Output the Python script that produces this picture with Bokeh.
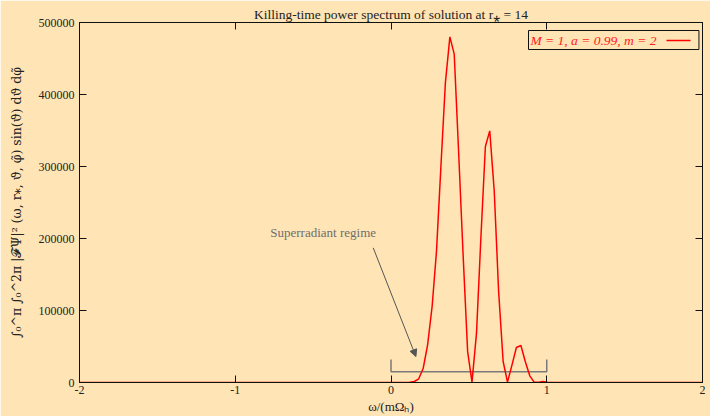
from bokeh.plotting import figure
from bokeh.models import (Range1d, LinearAxis, FixedTicker, PrintfTickFormatter,
                          Label, BoxAnnotation, Arrow, NormalHead, ColumnDataSource)
from bokeh.embed import file_html
from bokeh.resources import INLINE

# Power spectrum samples: omega / (m Omega_H) and integrated |F Psi|^2
omega = [-2.0, 0.121, 0.150, 0.178, 0.207, 0.235, 0.264, 0.292, 0.321, 0.349,
         0.378, 0.406, 0.435, 0.463, 0.492, 0.520, 0.549, 0.577, 0.606, 0.634,
         0.663, 0.691, 0.720, 0.748, 0.777, 0.805, 0.834, 0.862, 0.891, 0.919,
         0.948, 0.976, 1.005, 1.033, 2.0]
power = [0, 200, 1400, 5100, 19900, 52300, 105600, 182000, 302300, 415700,
         480000, 456000, 316000, 177000, 43000, 500, 68500, 200500, 327800, 349500,
         265300, 126400, 29200, 500, 24500, 48600, 51400, 29200, 9300, 500,
         300, 1500, 500, 0, 0]

x_ticks = [-2, -1, 0, 1, 2]
y_ticks = [0, 100000, 200000, 300000, 400000, 500000]

# Superradiant band 0 < omega < m Omega_H
band_lo, band_hi = 0.0, 1.0
band_y, band_cap = 15000, 32000

BG = "#FFE5B5"
SERIF = "Liberation Serif"
INK = "#222222"

p = figure(width=710, height=416, frame_width=623, frame_height=360,
           output_backend="svg", toolbar_location=None,
           x_range=Range1d(-2, 2), y_range=Range1d(0, 500000),
           x_axis_location=None, y_axis_location=None,
           min_border_left=79, min_border_right=8, min_border_top=22, min_border_bottom=34)
p.background_fill_color = BG
p.border_fill_color = BG
p.outline_line_color = "#111111"
p.outline_line_width = 1
p.grid.visible = False

p.title.text = "Killing-time power spectrum of solution at r\u204e = 14"
p.title.align = "center"
p.title.text_font = SERIF
p.title.text_font_size = "13.5px"
p.title.text_font_style = "normal"
p.title.text_color = INK
p.title.standoff = 2


def make_axis(with_labels=True):
    ax = LinearAxis()
    ax.major_tick_in = 7
    ax.major_tick_out = 0
    ax.minor_tick_in = 0
    ax.minor_tick_out = 0
    ax.axis_line_color = "#111111"
    ax.major_tick_line_color = "#111111"
    ax.major_label_text_font = SERIF
    ax.major_label_text_font_size = "12px"
    ax.major_label_text_color = INK
    if not with_labels:
        ax.major_label_text_alpha = 0
        ax.major_label_text_font_size = "1px"
        ax.major_label_standoff = 0
    return ax


xb = make_axis()
xb.ticker = FixedTicker(ticks=x_ticks)
xb.formatter = PrintfTickFormatter(format="%d")
xb.major_label_standoff = 3
xb.axis_label = "\u03c9/(m\u03a9\u2095)"
xb.axis_label_text_font = SERIF
xb.axis_label_text_font_size = "13px"
xb.axis_label_text_font_style = "normal"
xb.axis_label_text_color = INK
xb.axis_label_standoff = 2
p.add_layout(xb, "below")

yl = make_axis()
yl.ticker = FixedTicker(ticks=y_ticks)
yl.formatter = PrintfTickFormatter(format="%d")
yl.major_label_standoff = 5
yl.axis_label = ("\u222b\u2080^\u03c0 \u222b\u2080^2\u03c0 |\U0001d4d5\u03a8|\u00b2 "
                 "(\u03c9, r\u204e, \u03d1, \u03c6\u0303) sin(\u03d1) d\u03d1 d\u03c6\u0303")
yl.axis_label_text_font = "DejaVu Serif"
yl.axis_label_text_font_size = "12.5px"
yl.axis_label_text_font_style = "normal"
yl.axis_label_text_color = INK
yl.axis_label_standoff = 12
p.add_layout(yl, "left")

xt = make_axis(False)
xt.ticker = FixedTicker(ticks=x_ticks)
p.add_layout(xt, "above")

yr = make_axis(False)
yr.ticker = FixedTicker(ticks=y_ticks)
p.add_layout(yr, "right")

# Bracket marking the superradiant regime
p.line([band_lo, band_lo, band_hi, band_hi], [band_cap, band_y, band_y, band_cap],
       line_color="#7a7a7a", line_width=1.5)

# Spectrum
src = ColumnDataSource(dict(omega=omega, power=power))
p.line("omega", "power", source=src, line_color="#ff0000", line_width=1.5)

# Annotation text and arrow
p.add_layout(Label(x=-0.775, y=207800, text="Superradiant regime", text_font=SERIF,
                   text_font_size="13px", text_color="#6e6e6e",
                   text_baseline="middle", text_align="left"))
p.add_layout(Arrow(x_start=-0.114, y_start=187000, x_end=0.16, y_end=36000,
                   line_color="#555555", line_width=1,
                   end=NormalHead(size=7, fill_color="#555555", line_color="#555555")))

# Legend box (frame-relative screen units) with the sample line on the right
p.add_layout(Label(x=449, y=333, x_units="screen", y_units="screen",
                   text="M = 1, a = 0.99, m = 2            ",
                   text_font=SERIF, text_font_size="13.5px", text_font_style="italic",
                   text_color="#ff2020", border_line_color="#111111", border_line_width=1,
                   background_fill_color=BG, padding=2))
p.add_layout(BoxAnnotation(left=587, right=611, bottom=341.2, top=342.8,
                           left_units="screen", right_units="screen",
                           bottom_units="screen", top_units="screen",
                           fill_color="#ff0000", fill_alpha=1, line_alpha=0))

open("out.html", "w").write(file_html(p, INLINE))
